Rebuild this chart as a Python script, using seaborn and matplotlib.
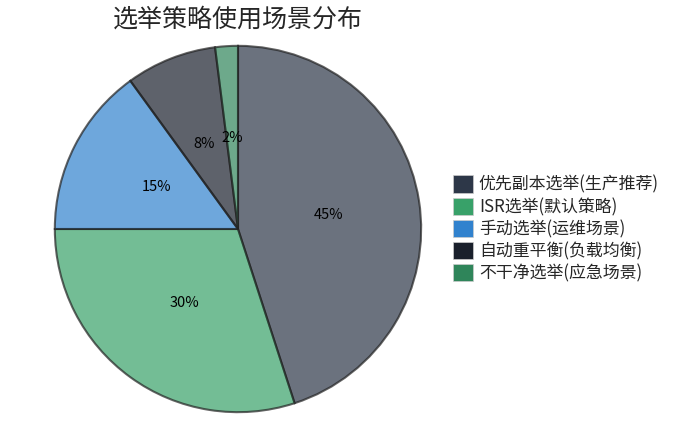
import matplotlib
matplotlib.use("Agg")
import matplotlib.pyplot as plt
import seaborn as sns

sns.set_theme(style="white")
plt.rcParams['font.family'] = ['Noto Sans CJK SC', 'DejaVu Sans']

labels = ["优先副本选举(生产推荐)", "ISR选举(默认策略)", "手动选举(运维场景)",
          "自动重平衡(负载均衡)", "不干净选举(应急场景)"]
values = [45, 30, 15, 8, 2]
colors = ["#2d3748", "#38a169", "#3182ce", "#1a202c", "#2f855a"]

fig = plt.figure(figsize=(6.78, 4.25), dpi=100)
ax = fig.add_axes([53 / 678, 11 / 425, 370 / 678, 370 / 425])

wedges, texts, autotexts = ax.pie(
    values, colors=colors, startangle=90, counterclock=False,
    autopct=lambda p: f"{p:.0f}%", pctdistance=0.5,
    wedgeprops=dict(edgecolor="#222222", linewidth=1.5, alpha=0.7),
    textprops=dict(fontsize=10.5, color="black"))
ax.set_xlim(-1.01, 1.01)
ax.set_ylim(-1.01, 1.01)
ax.set_aspect("equal")

fig.text(238 / 678, 1 - 20 / 425, "选举策略使用场景分布", ha="center", va="center", fontsize=18)

handles = [plt.Rectangle((0, 0), 1, 1, facecolor=c, edgecolor="#cccccc", linewidth=0.5) for c in colors]
fig.legend(handles, labels, loc="upper left", bbox_to_anchor=(445 / 678, 1 - 167 / 425),
           frameon=False, fontsize=12.2, handlelength=1.15, handleheight=1.2,
           handletextpad=0.35, labelspacing=0.22, borderpad=0)

fig.savefig("out.png", dpi=100)
